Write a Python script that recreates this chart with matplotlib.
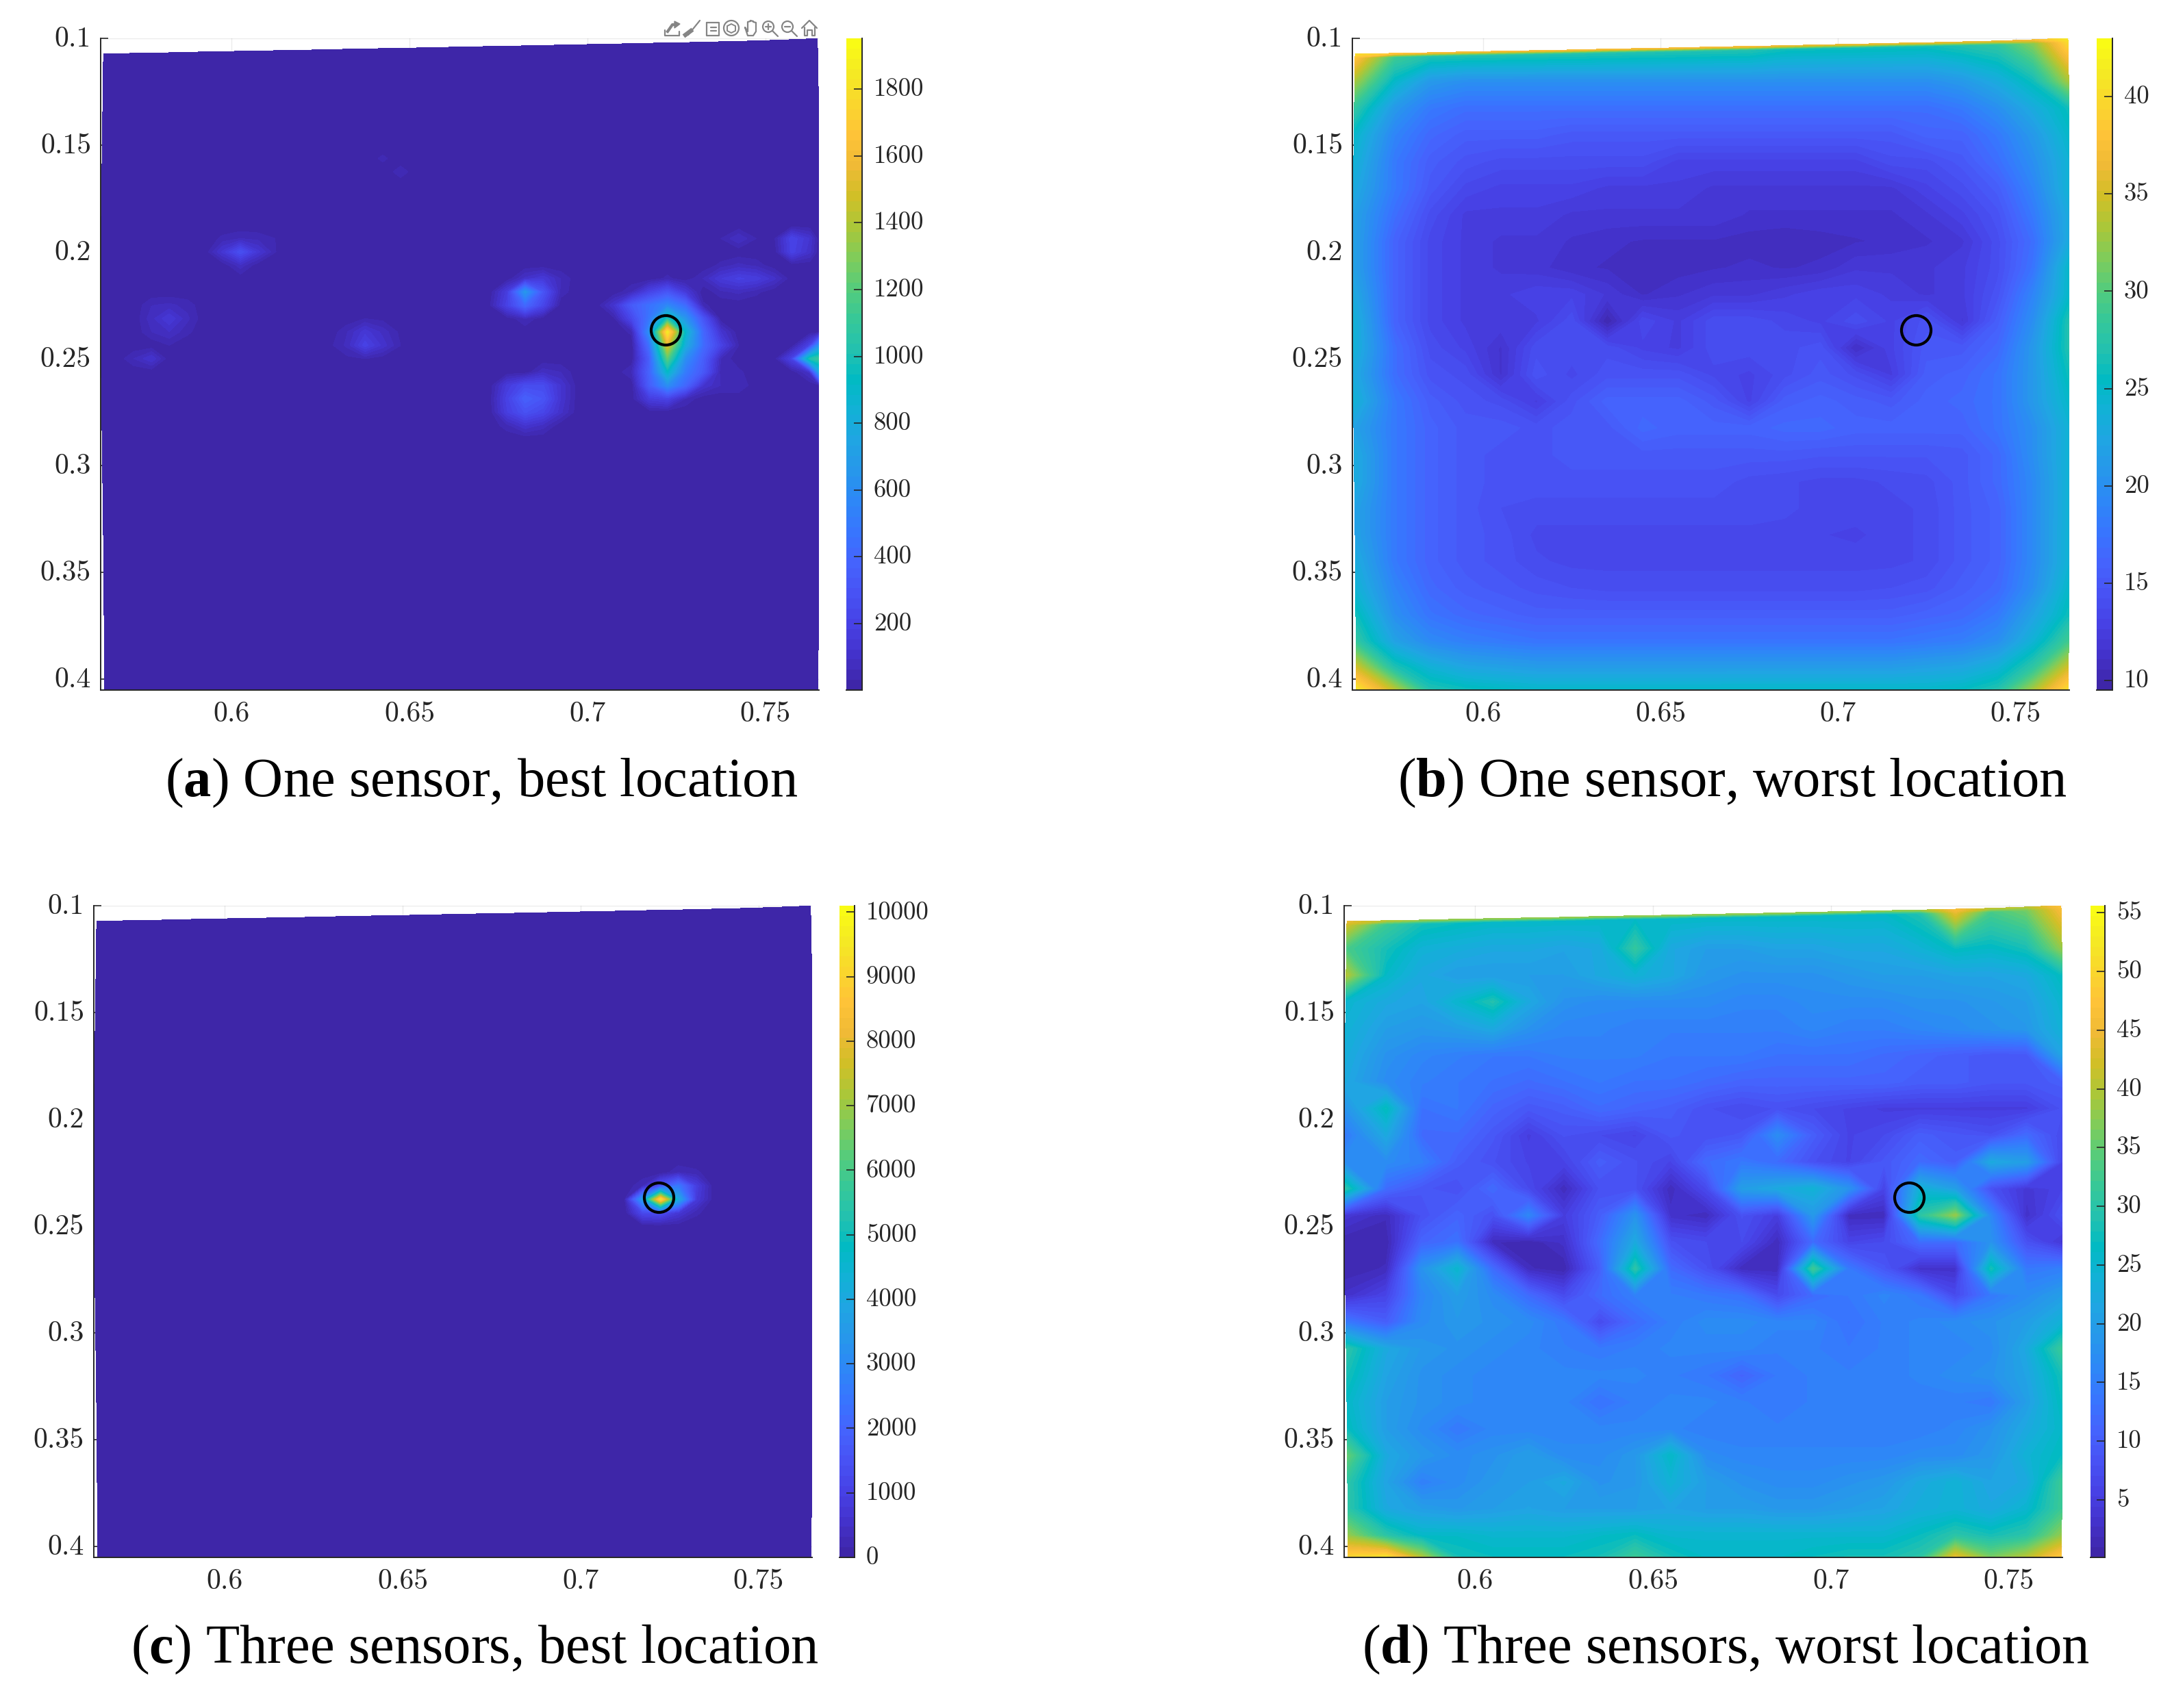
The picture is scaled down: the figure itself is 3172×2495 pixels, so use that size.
import numpy as np
import matplotlib
matplotlib.use('Agg')
import matplotlib.pyplot as plt
from matplotlib.colors import LinearSegmentedColormap, Normalize
from matplotlib.cm import ScalarMappable
from matplotlib.patches import Circle, Polygon
from matplotlib.transforms import ScaledTranslation

W, H = 3172, 2495

x_ticks = [0.6, 0.65, 0.7, 0.75]
x_tick_labels = ['0.6', '0.65', '0.7', '0.75']
y_ticks = [0.1, 0.15, 0.2, 0.25, 0.3, 0.35, 0.4]
y_tick_labels = ['0.1', '0.15', '0.2', '0.25', '0.3', '0.35', '0.4']

# sensor marker
sensor_x = 0.722
sensor_y = 0.2366

# grid nodes, panels a and c: half steps of the sampling grid
x_best = [0.564] + [round(0.5625 + 0.005 * k, 4) for k in range(1, 41)] + [0.7646]
y_best = [0.1074, 0.11] + [round(0.1 + 0.00625 * m, 5) for m in range(2, 49)] + [0.4052]

# grid nodes, panels b and d
x_worst = [0.564, 0.575, 0.585, 0.595, 0.605, 0.615, 0.625, 0.635, 0.645, 0.655, 0.665,
           0.675, 0.685, 0.695, 0.705, 0.715, 0.725, 0.735, 0.745, 0.755, 0.7646]
y_worst = [0.1074, 0.1089, 0.12, 0.1325, 0.145, 0.1575, 0.17, 0.1825, 0.195, 0.2075, 0.22, 0.2325, 0.245, 0.2575,
           0.27, 0.2825, 0.295, 0.3075, 0.32, 0.3325, 0.345, 0.3575, 0.37, 0.3825, 0.395, 0.4052]

# warped border of the sampled region
top_edge = [0.1074, 0.1071, 0.1068, 0.1064, 0.1061, 0.1058, 0.1055, 0.1051, 0.1048, 0.1045, 0.1041,
            0.1038, 0.1035, 0.1031, 0.1028, 0.1024, 0.1021, 0.1017, 0.1013, 0.1007, 0.1]
bottom_edge = [0.4052, 0.4052, 0.4052, 0.4052, 0.4052, 0.4052, 0.4052, 0.4052, 0.4052, 0.4052, 0.4052,
               0.4051, 0.4051, 0.4051, 0.4051, 0.405, 0.405, 0.405, 0.4049, 0.4048, 0.4048]
left_edge = [0.5641, 0.564, 0.5639, 0.5638, 0.5637, 0.5636, 0.5635, 0.5634, 0.5632, 0.5632, 0.5633, 0.5634, 0.5634,
             0.5635, 0.5636, 0.5637, 0.5638, 0.5639, 0.564, 0.5641, 0.5641, 0.5642, 0.5643, 0.5644, 0.5644]
right_edge = [0.7646, 0.7647, 0.7649, 0.765, 0.765, 0.7651, 0.7651, 0.7651, 0.7651, 0.7651, 0.7651, 0.7651, 0.7651,
              0.7651, 0.7651, 0.7651, 0.7651, 0.7651, 0.765, 0.765, 0.765, 0.7649, 0.7649, 0.7648, 0.7648]

# panel a: background level, then (row, first column, values) for what stands out
a_base = 5
a_spots = [
    # main peak
    (18, 32, [40]),
    (19, 30, [60, 200, 300, 150]),
    (20, 29, [120, 330, 450, 560, 420, 40]),
    (21, 29, [20, 230, 480, 1000, 650, 300]),
    (22, 30, [40, 620, 1850, 900, 400, 120]),
    (23, 31, [450, 1500, 800, 420, 200, 30]),
    (24, 31, [350, 1200, 600, 350, 60]),
    (25, 30, [60, 380, 900, 500, 320, 40, 40]),
    (26, 31, [350, 600, 400, 120, 60, 60]),
    (27, 30, [10, 170, 200, 60]),
    # upper middle blob
    (18, 24, [100, 150, 60]),
    (19, 23, [170, 650, 300, 50]),
    (20, 22, [20, 200, 400, 220]),
    (21, 24, [60]),
    # lower middle blob
    (25, 25, [80, 60]),
    (26, 23, [160, 250, 250, 120]),
    (27, 22, [10, 200, 360, 300, 120]),
    (28, 23, [180, 280, 220, 100]),
    (29, 23, [50, 120, 80]),
    # left side blobs
    (15, 7, [40, 60, 50, 30]),
    (16, 7, [130, 270, 130, 30]),
    (17, 8, [80]),
    (21, 15, [30, 20]),
    (22, 14, [60, 140, 80, 20]),
    (23, 13, [20, 70, 200, 110, 30]),
    (24, 14, [20, 30, 10]),
    (20, 3, [60, 70, 50]),
    (21, 3, [80, 150, 70]),
    (22, 3, [60, 90, 40]),
    (23, 4, [30]),
    (24, 2, [60, 120]),
    # right edge and upper right
    (23, 40, [200, 600]),
    (24, 39, [200, 1000, 1100]),
    (25, 40, [100, 700]),
    (15, 35, [30, 90, 30, 20, 210, 120]),
    (16, 39, [200, 100]),
    (17, 35, [40, 70, 50]),
    (18, 34, [60, 150, 190, 170, 100]),
    (19, 35, [50, 70, 40]),
    # faint ones higher up
    (9, 16, [40]),
    (10, 17, [50]),
    (5, 32, [30]),
]

# panel c
c_base = 20
c_spots = [
    (20, 33, [300, 200]),
    (21, 31, [300, 1500, 2500, 900]),
    (22, 30, [150, 3500, 9300, 4000, 800]),
    (23, 31, [1200, 1300, 700, 200]),
]

b_values = [
    [40, 38, 37, 37, 37, 37, 37, 37, 37, 37, 37, 37, 36, 36, 36, 36, 36, 36, 36, 37, 41],
    [38, 29, 27, 27, 27, 27, 27, 27, 27, 27, 27, 27, 26, 26, 26, 26, 26, 27, 28, 32, 40],
    [33, 25, 21, 20, 20, 20, 20, 20, 20, 20, 20, 20, 20, 20, 20, 20, 20, 21, 23, 26, 33],
    [28, 21, 18, 17, 17, 17, 17, 17, 17, 17, 17, 17, 17, 17, 17, 17, 17, 18, 20, 23, 26],
    [25, 19, 16.5, 15.5, 15.5, 15.5, 15, 15, 15, 15, 15, 15, 15, 15, 15, 15, 16, 16, 18, 21, 25],
    [24, 18, 15.5, 14.5, 14, 14, 14, 14, 14, 13, 13, 13, 13, 13, 13, 14, 14, 15, 17, 20, 24],
    [23, 18, 15, 13.5, 13, 13, 13, 12.5, 12.5, 12.5, 12, 12, 12, 12, 12, 12, 13, 14, 15.5, 19, 24],
    [22, 17, 14, 12.5, 12.5, 12.5, 12, 12, 12, 12, 12, 11.5, 11.5, 11.5, 11.5, 11.5, 12, 13, 14.5, 18, 23],
    [22, 16, 13.5, 12.5, 12, 12, 11.5, 11.2, 11, 11, 11, 10.8, 10.6, 10.8, 11, 11.2, 11.5, 12, 14, 17, 23],
    [22, 16, 13.5, 12.5, 12, 11.8, 11.2, 11, 11, 10.8, 11, 11.2, 11, 11.2, 12, 12, 12, 12.5, 14, 17.5, 25],
    [23, 16, 13.5, 12.5, 12.5, 13, 13, 12, 11, 11.5, 12, 12, 12.5, 13, 13, 12.5, 12, 12.5, 14.5, 19, 25],
    [24, 16, 13.5, 12.5, 12.5, 12.5, 14, 10, 13.5, 12.5, 14, 14, 13.5, 13, 14, 13, 14.5, 12, 15.5, 20, 27],
    [24, 17, 14, 13, 11.5, 14, 14, 14, 13, 12.5, 14, 14, 14, 14.5, 11, 13, 15, 15, 16.5, 21, 27],
    [23, 17, 14.5, 14, 11.5, 14.5, 13.5, 14.5, 14.5, 14.5, 13.5, 13, 14, 15, 14, 12.5, 15.5, 16, 17.5, 21, 26],
    [24, 18, 15.5, 14.5, 14, 12.5, 14.5, 16, 16, 16, 15, 13, 15.5, 16, 15.5, 15, 16, 16.5, 17.5, 21, 25],
    [22, 18, 16, 15, 15, 14.5, 15, 15, 16.5, 16, 16, 16, 16.5, 16.5, 16, 16, 16, 16, 17.5, 20, 24],
    [23, 18, 16, 15, 14.5, 14.5, 15, 15, 15, 15, 15, 15, 15, 14.8, 14.8, 14.8, 14.8, 15, 16.5, 20, 24],
    [23, 18, 16, 15, 14.5, 14.5, 14.5, 14.5, 14.5, 14.5, 14.5, 14, 13.8, 13.5, 13.5, 13.8, 14, 15, 16.5, 19.5, 24],
    [22, 18, 16, 15, 14.2, 14, 14, 14, 14, 14, 14, 14, 13.8, 13.5, 13.5, 13.5, 13.8, 15, 16, 19.5, 24],
    [22, 18, 16, 15, 14.5, 13.5, 13.5, 13.5, 13.5, 13.5, 13.5, 13.5, 13.5, 13.2, 13, 13.5, 13.8, 15, 16, 19.5, 24],
    [23, 18, 16, 15, 14.5, 13.8, 13.5, 13.5, 13.5, 13.5, 13.5, 13.5, 13.5, 13.5, 13.5, 13.5, 13.8, 15, 16, 19.5, 24],
    [24, 19, 16.5, 15.5, 15, 14.5, 14.2, 14, 14, 14, 14, 14, 14, 14, 14, 14.2, 14.5, 15.5, 16.5, 20, 25],
    [26, 20, 17.5, 16.5, 16, 15.5, 15.5, 15.5, 15.5, 15.5, 15.5, 15.5, 15.5, 15.5, 15.5, 15.5, 16, 16.5, 18, 22, 26],
    [28, 22, 19.5, 18.5, 18, 17.5, 17.5, 17.5, 17.5, 17.5, 17.5, 17.5, 17.5, 17.5, 17.5, 17.5, 18, 18.5, 20, 24, 29],
    [35, 27, 24, 22.5, 22, 21.5, 21.5, 21.5, 21.5, 21.5, 21.5, 21.5, 21.5, 21.5, 21.5, 21.5, 22, 22.5, 24, 28, 35],
    [41, 34, 27, 26, 25.5, 25, 25, 25, 25, 25, 25, 25, 25, 25, 25, 25, 25, 25.5, 27, 33, 40],
]

d_values = [
    [44, 40, 38, 38, 38, 38, 38, 38, 38, 38, 38, 38, 38, 38, 38, 38, 38, 46, 40, 40, 47],
    [42, 32, 28, 27, 26, 26, 26, 26, 26, 26, 26, 26, 26, 26, 26, 26, 29, 44, 33, 36, 46],
    [33, 28, 24, 23, 22, 22, 21, 22, 31, 22, 20, 20, 21, 21, 22, 22, 24, 27, 26, 28, 38],
    [40, 26, 22, 20, 20, 20, 20, 22, 24, 22, 19, 18, 18, 18, 19, 20, 20, 21, 21, 22, 27],
    [25, 22, 21, 25, 29, 22, 18, 17, 17, 17, 17, 16, 16, 17, 17, 17, 18, 18, 19, 20, 25],
    [24, 20, 19, 20, 22, 18, 16, 16, 15, 15, 15, 15, 15, 16, 15, 15, 16, 17, 18, 19, 24],
    [23, 18, 16, 15, 14, 14, 15, 15, 15, 14, 14, 14, 13, 13, 13, 12, 11, 10, 9, 9, 21],
    [22, 17, 15, 14, 13, 12, 13, 14, 13, 13, 12, 11, 11, 11, 11, 11, 10, 10, 9, 9, 10],
    [18, 27, 13, 14, 11, 9, 10, 12, 11, 10, 8, 7, 8, 7, 6, 5, 5, 5, 5, 5, 8],
    [14, 22, 12, 12, 9, 5, 8, 7, 6, 9, 8, 9, 17, 10, 6, 7, 10, 9, 8, 12, 7],
    [17, 17, 15, 10, 8, 6, 6, 10, 8, 6, 12, 14, 12, 8, 6, 9, 12, 10, 22, 20, 6],
    [30, 12, 9, 8, 12, 7, 2, 8, 8, 2, 7, 20, 22, 24, 18, 6, 24, 20, 8, 4, 6],
    [4, 2, 8, 11, 8, 16, 5, 10, 18, 3, 2, 8, 5, 19, 2, 2, 30, 38, 16, 3, 8],
    [1, 1, 11, 13, 2, 1, 3, 12, 22, 8, 7, 7, 2, 12, 6, 7, 12, 12, 18, 8, 4],
    [1, 2, 18, 25, 12, 2, 1, 10, 30, 12, 8, 2, 2, 32, 14, 9, 3, 3, 28, 14, 15],
    [3, 6, 16, 20, 17, 12, 7, 12, 15, 15, 14, 13, 7, 12, 14, 16, 14, 7, 14, 17, 20],
    [14, 10, 17, 19, 18, 17, 14, 7, 12, 15, 17, 17, 16, 16, 13, 15, 16, 17, 18, 20, 24],
    [30, 22, 19, 18, 17, 16, 15, 14, 15, 16, 16, 16, 15, 15, 14, 15, 16, 16, 17, 22, 32],
    [28, 21, 18, 17, 16, 16, 16, 16, 16, 15, 14, 11, 14, 15, 15, 15, 16, 17, 18, 21, 28],
    [26, 20, 18, 17, 16, 16, 16, 13, 15, 16, 16, 15, 14, 15, 15, 15, 15, 15, 14, 20, 27],
    [27, 20, 17, 14, 16, 16, 16, 16, 16, 16, 15, 15, 15, 15, 15, 15, 15, 16, 18, 22, 26],
    [35, 22, 19, 17, 18, 20, 17, 17, 19, 26, 17, 16, 16, 16, 16, 16, 17, 17, 19, 24, 27],
    [30, 21, 15, 17, 19, 20, 22, 18, 19, 24, 20, 18, 17, 17, 18, 19, 22, 24, 21, 22, 32],
    [30, 22, 20, 19, 20, 21, 20, 20, 20, 21, 20, 20, 19, 19, 20, 21, 23, 24, 22, 25, 32],
    [38, 30, 26, 26, 25, 25, 25, 26, 27, 25, 25, 25, 25, 25, 25, 25, 27, 30, 28, 30, 38],
    [50, 52, 40, 28, 27, 27, 27, 28, 32, 28, 26, 26, 26, 27, 28, 28, 30, 44, 36, 40, 48],
]

# colour limits and colourbar ticks
a_lim, a_cticks = (1, 1952), [200, 400, 600, 800, 1000, 1200, 1400, 1600, 1800]
b_lim, b_cticks = (9.5, 43), [10, 15, 20, 25, 30, 35, 40]
c_lim, c_cticks = (0, 10100), [0, 1000, 2000, 3000, 4000, 5000, 6000, 7000, 8000, 9000, 10000]
d_lim, d_cticks = (0.1, 55.6), [5, 10, 15, 20, 25, 30, 35, 40, 45, 50, 55]

# parula, every few rows of the 64 row table
parula_rows = [
    (0.2422, 0.1504, 0.6603), (0.2647, 0.1978, 0.7952), (0.2783, 0.2559, 0.8991), (0.2810, 0.3228, 0.9579),
    (0.2699, 0.3892, 0.9906), (0.2206, 0.4603, 0.9973), (0.1786, 0.5289, 0.9682), (0.1540, 0.5902, 0.9218),
    (0.1248, 0.6459, 0.8883), (0.0689, 0.6948, 0.8394), (0.0067, 0.7312, 0.7660), (0.1408, 0.7584, 0.6842),
    (0.2161, 0.7843, 0.5923), (0.3406, 0.8008, 0.4789), (0.5044, 0.7993, 0.3480), (0.6720, 0.7793, 0.2227),
    (0.8203, 0.7498, 0.1535), (0.9393, 0.7288, 0.2100), (0.9970, 0.7659, 0.2199), (0.9786, 0.8386, 0.1766),
    (0.9597, 0.9135, 0.1423), (0.9769, 0.9839, 0.0805),
]
parula = LinearSegmentedColormap.from_list('parula', parula_rows, N=64)

plt.rcParams['mathtext.fontset'] = 'custom'
plt.rcParams['mathtext.rm'] = 'Liberation Serif'
plt.rcParams['mathtext.bf'] = 'Liberation Serif:bold'

INK = '#262626'
fig = plt.figure(figsize=(W / 100, H / 100), dpi=100)
# tick labels sit a touch above their ticks
nudge_up = ScaledTranslation(0, 3 / 100, fig.dpi_scale_trans)


def px_axes(left, top, right, bottom, **kw):
    ''' add_axes with the box given in image pixels '''
    return fig.add_axes([left / W, 1 - bottom / H, (right - left) / W, (bottom - top) / H], **kw)


def stretch(edge, n):
    return np.interp(np.linspace(0, 1, n), np.linspace(0, 1, len(edge)), edge)


def make_mesh(x_nodes, y_nodes):
    X, Y = np.meshgrid(x_nodes, y_nodes)
    ny, nx = X.shape
    Y[0, :] = stretch(top_edge, nx)
    Y[1, :] = np.minimum(Y[1, :], Y[0, :] + 0.0015)
    Y[-1, :] = stretch(bottom_edge, nx)
    X[:, 0] = stretch(left_edge, ny)
    X[:, -1] = stretch(right_edge, ny)
    return X, Y


def spots_grid(base, spots):
    Z = np.full((len(y_best), len(x_best)), float(base))
    for row, col, vals in spots:
        Z[row, col:col + len(vals)] = vals
    return Z


def draw_panel(box, cbox, X, Y, Z, lim, cticks, caption, cap_x, cap_y):
    ax = px_axes(*box)
    norm = Normalize(*lim)
    cs = ax.contourf(X, Y, Z, levels=np.linspace(lim[0], lim[1], 65), cmap=parula, norm=norm,
                     extend='both')
    cs.set_edgecolor('face')
    cs.set_linewidth(0.4)
    ax.plot(sensor_x, sensor_y, 'o', ms=31, mfc='none', mec='black', mew=3, zorder=5)

    ax.set_xlim(0.5632, 0.7651)
    ax.set_ylim(0.4052, 0.1)
    ax.set_xticks(x_ticks, x_tick_labels, family='cmr10', fontsize=30, color=INK)
    ax.set_yticks(y_ticks, y_tick_labels, family='cmr10', fontsize=30, color=INK,
                  va='center_baseline')
    ax.tick_params(direction='in', length=8, width=1.2, color=INK, pad=10)
    ax.tick_params(axis='x', pad=12)
    ax.grid(True, color='black', alpha=0.08, lw=1)
    ax.set_axisbelow(True)
    ax.spines['top'].set_visible(False)
    ax.spines['right'].set_visible(False)
    ax.spines['left'].set_color(INK)
    ax.spines['bottom'].set_color(INK)
    ax.spines['left'].set_linewidth(1.4)
    ax.spines['bottom'].set_linewidth(1.4)
    for label in ax.get_yticklabels():
        label.set_transform(label.get_transform() + nudge_up)

    cax = px_axes(*cbox)
    cb = fig.colorbar(ScalarMappable(norm=norm, cmap=parula), cax=cax)
    cb.set_ticks(cticks, labels=[str(t) for t in cticks], family='cmr10', fontsize=26.5, color=INK,
                 va='center_baseline')
    cb.outline.set_visible(False)
    cax.spines['right'].set_visible(True)
    cax.spines['bottom'].set_visible(True)
    cax.spines['right'].set_color(INK)
    cax.spines['bottom'].set_color(INK)
    cax.spines['right'].set_linewidth(1.4)
    cax.spines['bottom'].set_linewidth(1.4)
    cax.tick_params(direction='in', length=9, width=1.2, color=INK, pad=12, right=True)
    for label in cax.get_yticklabels():
        label.set_transform(label.get_transform() + nudge_up)

    fig.text(cap_x / W, 1 - cap_y / H, caption, family='Liberation Serif', fontsize=58,
             color='black', ha='center', va='center')


def draw_toolbar():
    ''' the little grey figure toolbar above panel a '''
    tb = fig.add_axes([0, 0, 1, 1], facecolor='none')
    tb.set_xlim(0, W)
    tb.set_ylim(H, 0)
    tb.axis('off')
    grey = '#858585'
    line = dict(color=grey, lw=1.6, solid_capstyle='round')
    # export
    tb.plot([971, 971, 992], [44, 52, 52], **line)
    tb.plot([992, 992], [52, 46], **line)
    tb.plot([975, 982, 988], [46, 36, 36], color=grey, lw=3)
    tb.add_patch(Polygon([[985, 31], [993, 35], [985, 41]], color=grey))
    # brush
    tb.plot([1005, 1022], [51, 30], **line)
    tb.plot([1001, 1009], [51, 45], color=grey, lw=4.5)
    # data tip
    tb.plot([1032, 1050, 1050, 1032, 1032], [33, 33, 52, 52, 33], **line)
    tb.plot([1038, 1046], [40, 40], **line)
    tb.plot([1038, 1046], [45, 45], **line)
    # rotate
    tb.add_patch(Circle((1068, 41), 11, fc='none', ec=grey, lw=1.6))
    tb.add_patch(Polygon([[1062, 38], [1068, 35], [1074, 38], [1074, 45], [1068, 48], [1062, 45]],
                         fc='none', ec=grey, lw=1.4))
    # pan
    tb.plot([1088, 1092, 1092, 1096, 1096, 1100, 1100, 1104, 1104, 1100, 1092, 1088],
            [40, 46, 32, 31, 30, 31, 32, 33, 46, 52, 52, 40], **line)
    # zoom in, zoom out
    for cx, plus in [(1122, True), (1150, False)]:
        tb.add_patch(Circle((cx, 39), 8, fc='none', ec=grey, lw=1.6))
        tb.plot([cx + 6, cx + 14], [45, 53], **line)
        tb.plot([cx - 4, cx + 4], [39, 39], **line)
        if plus:
            tb.plot([cx, cx], [35, 43], **line)
    # home
    tb.plot([1171, 1182, 1193], [41, 30, 41], **line)
    tb.plot([1175, 1175, 1179, 1179, 1186, 1186, 1190, 1190], [40, 52, 52, 44, 44, 52, 52, 40], **line)


mesh_best = make_mesh(x_best, y_best)
mesh_worst = make_mesh(x_worst, y_worst)

draw_panel((147, 56, 1196, 1008), (1236, 56, 1259, 1008), *mesh_best,
           spots_grid(a_base, a_spots), a_lim, a_cticks,
           r'($\mathbf{a}$) One sensor, best location', 703, 1144)
draw_panel((1975, 56, 3022, 1008), (3062, 56, 3085, 1008), *mesh_worst,
           np.array(b_values), b_lim, b_cticks,
           r'($\mathbf{b}$) One sensor, worst location', 2530, 1144)
draw_panel((137, 1323, 1186, 2275), (1226, 1323, 1248, 2275), *mesh_best,
           spots_grid(c_base, c_spots), c_lim, c_cticks,
           r'($\mathbf{c}$) Three sensors, best location', 693, 2410)
draw_panel((1963, 1323, 3012, 2275), (3053, 1323, 3074, 2275), *mesh_worst,
           np.array(d_values), d_lim, d_cticks,
           r'($\mathbf{d}$) Three sensors, worst location', 2520, 2410)
draw_toolbar()

fig.savefig('out.png', dpi=100)
